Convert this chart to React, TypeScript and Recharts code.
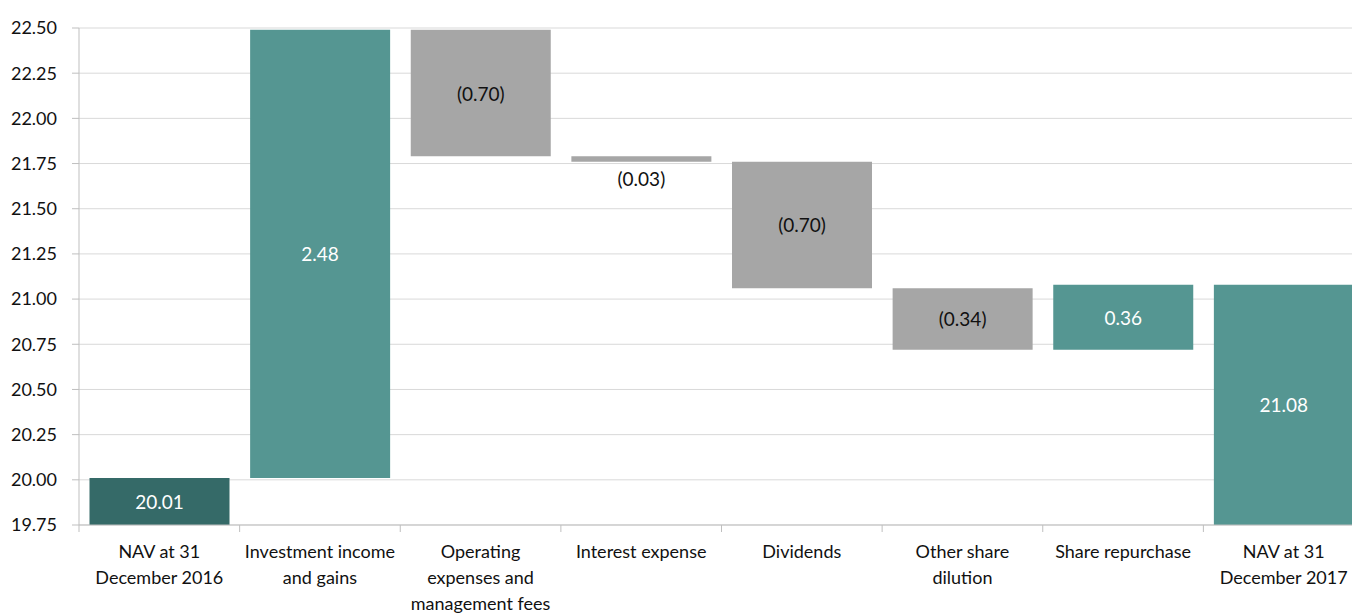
import { BarChart, Bar, XAxis, YAxis, CartesianGrid, Cell, LabelList } from 'recharts';

const categories = [
  ['NAV at 31', 'December 2016'],
  ['Investment income', 'and gains'],
  ['Operating', 'expenses and', 'management fees'],
  ['Interest expense'],
  ['Dividends'],
  ['Other share', 'dilution'],
  ['Share repurchase'],
  ['NAV at 31', 'December 2017'],
];
// first and last entries are totals, the rest are movements
const values = [20.01, 2.48, -0.7, -0.03, -0.7, -0.34, 0.36, 21.08];
const kinds = ['start', 'step', 'step', 'step', 'step', 'step', 'step', 'total'];
const yTicks = [19.75, 20.0, 20.25, 20.5, 20.75, 21.0, 21.25, 21.5, 21.75, 22.0, 22.25, 22.5];

const Y_MIN = 19.75;
const Y_MAX = 22.5;
const CHART_W = 1364;
const CHART_H = 615;
const Y_AXIS_W = 79;
const BAND = (CHART_W - Y_AXIS_W) / categories.length;
const FONT = 'Lato, "Open Sans", sans-serif';

const DARK = '#356a68';
const TEAL = '#559692';
const GREY = '#a6a6a6';

// build the floating ranges for the waterfall
let running = 0;
const rows = values.map((v, i) => {
  let range: [number, number];
  if (kinds[i] === 'step') {
    const next = running + v;
    range = [Math.min(running, next), Math.max(running, next)];
    running = next;
  } else {
    range = [Y_MIN, v];
    running = v;
  }
  return { name: categories[i].join(' '), lines: categories[i], value: v, kind: kinds[i], range };
});

const fmt = (v: number) => (v < 0 ? `(${Math.abs(v).toFixed(2)})` : v.toFixed(2));
const colorFor = (r: any) => (r.kind === 'start' ? DARK : r.value < 0 ? GREY : TEAL);

function CategoryTick(props: any) {
  const { x, y, payload, index } = props;
  const lines: string[] = rows[index]?.lines ?? [payload.value];
  return (
    <g>
      <line x1={x - BAND / 2} x2={x - BAND / 2} y1={y} y2={y + 7} stroke="#bfbfbf" strokeWidth={1} />
      <text x={x} y={y} textAnchor="middle" fontFamily={FONT} fontSize={18} fill="#111">
        {lines.map((l, i) => (
          <tspan key={i} x={x} dy={i === 0 ? 33 : 26}>
            {l}
          </tspan>
        ))}
      </text>
    </g>
  );
}

function BarLabel(props: any) {
  const { x, y, width, height, index } = props;
  const r = rows[index];
  const small = Math.abs(height) < 20;
  const cy = small ? y + Math.abs(height) + 17 : y + height / 2;
  const fill = r.value < 0 ? '#111' : '#fff';
  return (
    <text
      x={x + width / 2}
      y={cy}
      textAnchor="middle"
      dominantBaseline="central"
      fontFamily={FONT}
      fontSize={19}
      fill={small ? '#111' : fill}
    >
      {fmt(r.value)}
    </text>
  );
}

export default function App() {
  return (
    <div style={{ position: 'fixed', left: 0, top: 0, width: 1352, height: 615, overflow: 'hidden', background: '#fff' }}>
      <BarChart
        width={CHART_W}
        height={CHART_H}
        data={rows}
        margin={{ top: 28, right: 0, left: 0, bottom: 0 }}
        barCategoryGap={10.5}
      >
        <CartesianGrid vertical={false} stroke="#d9d9d9" />
        <XAxis
          dataKey="name"
          interval={0}
          height={90}
          tickLine={false}
          tickSize={0}
          tickMargin={0}
          axisLine={{ stroke: '#bfbfbf' }}
          tick={<CategoryTick />}
        />
        <YAxis
          width={Y_AXIS_W}
          domain={[Y_MIN, Y_MAX]}
          ticks={yTicks}
          allowDataOverflow
          tickFormatter={(v: number) => v.toFixed(2)}
          tickSize={7}
          tickMargin={15}
          tickLine={{ stroke: '#bfbfbf' }}
          axisLine={{ stroke: '#bfbfbf' }}
          tick={{ fontFamily: FONT, fontSize: 18, fill: '#111' }}
        />
        <Bar dataKey="range" isAnimationActive={false}>
          {rows.map((r, i) => (
            <Cell key={i} fill={colorFor(r)} />
          ))}
          <LabelList dataKey="value" content={<BarLabel />} />
        </Bar>
      </BarChart>
    </div>
  );
}
